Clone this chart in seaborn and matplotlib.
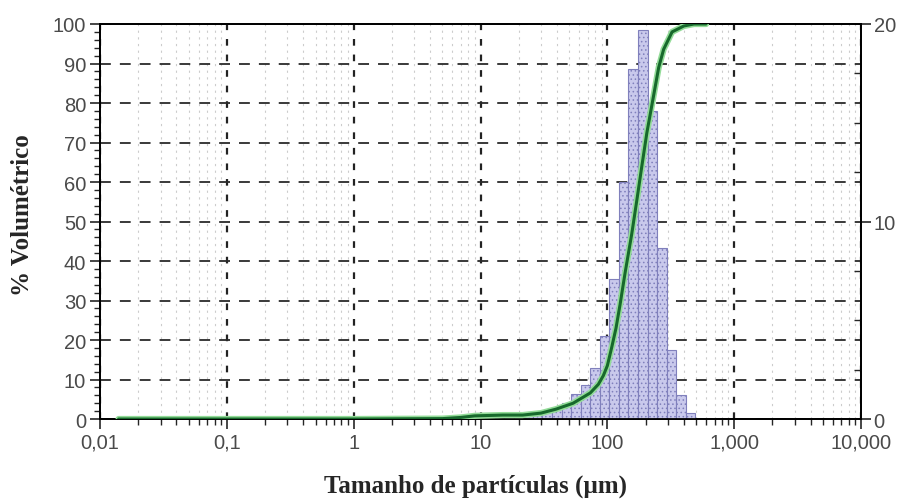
import matplotlib
matplotlib.use('Agg')
import matplotlib.pyplot as plt
from matplotlib.ticker import FixedLocator, MultipleLocator, LogLocator, NullFormatter
import pandas as pd
import seaborn as sns

# Particle size bins (um): edges of each histogram bar
bin_edges = [7.67, 9.13, 10.86, 12.92, 15.37, 18.28, 21.74, 25.86, 30.76, 36.59,
             43.52, 51.77, 61.58, 73.25, 87.13, 103.6, 123.3, 146.7, 174.5, 207.6,
             246.9, 293.7, 349.4, 415.6, 494.4]
# % volume in each bin (right axis)
bin_volume = [0.15, 0.3, 0.3, 0.2, 0.15, 0.15, 0.2, 0.3, 0.4, 0.55,
              0.8, 1.25, 1.7, 2.6, 4.2, 7.1, 12.0, 17.7, 19.7, 15.6,
              8.65, 3.5, 1.2, 0.3]

# Cumulative curve (% volume passing, left axis)
curve_size = [0.014, 1, 5, 7, 9, 15, 21.5, 30, 39.4, 53.7, 73.3, 85, 93, 100, 108,
              117, 126, 138, 156, 171, 187, 205, 229, 254, 278, 324, 401, 482, 600]
curve_cum = [0, 0, 0.1, 0.4, 0.8, 1.0, 1.0, 1.5, 2.5, 4.0, 6.6, 8.8, 11, 13.5, 18,
             23, 29, 37, 47, 55.5, 64, 72.5, 81, 89, 93.6, 98, 99.5, 100, 100]

x_ticks = [0.01, 0.1, 1, 10, 100, 1000, 10000]
x_tick_labels = ['0,01', '0,1', '1', '10', '100', '1,000', '10,000']

sns.set_style('ticks')
plt.rcParams['font.family'] = ['Liberation Sans', 'DejaVu Sans']
plt.rcParams['hatch.linewidth'] = 0.6

tick_color = '#4a4a4a'

fig = plt.figure(figsize=(8.98, 5.02), dpi=100)
ax = fig.add_axes([0.1114, 0.1633, 0.8474, 0.7869])
ax.set_xscale('log')
ax.set_xlim(0.01, 10000)
ax.set_ylim(0, 100)

# x ticks
ax.xaxis.set_major_locator(FixedLocator(x_ticks))
ax.set_xticklabels(x_tick_labels)
ax.xaxis.set_minor_locator(LogLocator(base=10, subs=range(2, 10)))
ax.xaxis.set_minor_formatter(NullFormatter())
# left y ticks
ax.yaxis.set_major_locator(MultipleLocator(10))
ax.yaxis.set_minor_locator(MultipleLocator(2))
ax.tick_params(which='major', direction='out', length=7, width=1.2,
               labelsize=14.5, labelcolor=tick_color, pad=3)
ax.tick_params(which='minor', direction='out', length=4, width=1.0)

# grid
ax.set_axisbelow(True)
ax.grid(which='major', axis='y', color='#2a2a2a', lw=1.3, linestyle=(0, (6, 5)))
ax.grid(which='major', axis='x', color='#222222', lw=1.6, linestyle=(0, (3, 4)))
ax.grid(which='minor', axis='x', color='#cccccc', lw=0.8, linestyle=(0, (2, 4)))

for s in ax.spines.values():
    s.set_color('black')
    s.set_linewidth(1.3)

# histogram on right axis
ax2 = ax.twinx()
widths = [b - a for a, b in zip(bin_edges[:-1], bin_edges[1:])]
ax2.bar(bin_edges[:-1], bin_volume, width=widths, align='edge',
        color='#c9c9ec', edgecolor='#8080bc', hatch='....', linewidth=0.8)
ax2.set_ylim(0, 20)
ax2.yaxis.set_major_locator(MultipleLocator(10))
ax2.yaxis.set_minor_locator(MultipleLocator(2.5))
ax2.tick_params(which='major', direction='out', length=7, width=1.2,
                labelsize=14.5, labelcolor=tick_color, pad=2)
ax2.tick_params(which='minor', direction='in', length=5, width=1.0)
for s in ax2.spines.values():
    s.set_color('black')
    s.set_linewidth(1.3)

# cumulative curve on top
ax3 = ax.twinx()
ax3.set_ylim(0, 100)
curve = pd.DataFrame({'size': curve_size, 'cum': curve_cum})
sns.lineplot(data=curve, x='size', y='cum', ax=ax3, color='#93dc98', lw=4.5)
sns.lineplot(data=curve, x='size', y='cum', ax=ax3, color='#17692c', lw=2.2)
ax3.axis('off')

fig.text(0.530, 0.032, 'Tamanho de partículas (µm)', ha='center', va='center',
         family='Liberation Serif', weight='bold', fontsize=18)
fig.text(0.0245, 0.572, '% Volumétrico', ha='center', va='center', rotation=90,
         family='Liberation Serif', weight='bold', fontsize=18)

fig.savefig('out.png', dpi=100)
